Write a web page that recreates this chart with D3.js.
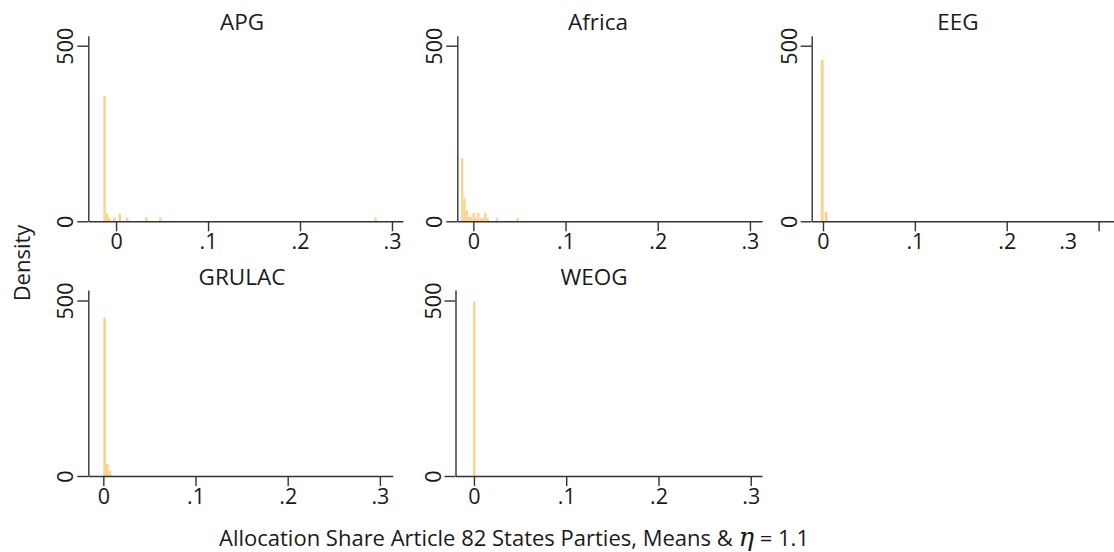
<!DOCTYPE html>
<html>
<head>
<meta charset="utf-8">
<script src="https://cdn.jsdelivr.net/npm/d3@7"></script>
<style>
  html, body { margin: 0; padding: 0; background: #fff; }
  svg { display: block; }
  text { font-family: "Open Sans", Lato, sans-serif; fill: #1a1a1a; }
</style>
</head>
<body>
<svg id="chart" width="1114" height="552"></svg>
<script>
// ---------- data ----------
const panelNames = ["APG", "Africa", "EEG", "GRULAC", "WEOG"];
const xTicks = [0, 0.1, 0.2, 0.3];
const xTickLabels = ["0", ".1", ".2", ".3"];
const yTicks = [0, 500];

const apgBinStart = [-0.0138, -0.0112, -0.0086, -0.0034, 0.0027, 0.0109, 0.0316, 0.0468, 0.2808];
const apgDensity  = [357, 22, 11, 11, 22, 11, 11, 11, 11];
const apgBinWidth = 0.0026;

const africaBinStart = [-0.0133, -0.0108, -0.0083, -0.0058, -0.0033, -0.0008, 0.0017, 0.0042, 0.0067, 0.0092, 0.0117, 0.0142, 0.0242, 0.0467];
const africaDensity  = [180, 66, 31, 12, 12, 24, 10, 24, 10, 10, 24, 10, 10, 10];
const africaBinWidth = 0.0025;

const eegBinStart = [-0.0025, 0.0018];
const eegDensity  = [460, 27];
const eegBinWidth = 0.0032;

const grulacBinStart = [0, 0.0029, 0.0058];
const grulacDensity  = [451, 34, 14];
const grulacBinWidth = 0.0029;

const weogBinStart = [-0.001];
const weogDensity  = [497];
const weogBinWidth = 0.0027;

const xTitle = "Allocation Share Article 82 States Parties, Means & ";
const yTitle = "Density";

// ---------- layout ----------
const rows = [
  { baseline: 221.3, top: 35.7, y500: 45.7, titleY: 30 },
  { baseline: 476.0, top: 290.0, y500: 300.5, titleY: 285 }
];
const layout = [
  { name: "APG",    start: apgBinStart,    dens: apgDensity,    w: apgBinWidth,    left: 88.3,  right: 403,  d0: -0.0302, d1: 0.312,  row: 0, titleX: 242 },
  { name: "Africa", start: africaBinStart, dens: africaDensity, w: africaBinWidth, left: 457.3, right: 762,  d0: -0.0174, d1: 0.3131, row: 0, titleX: 598 },
  { name: "EEG",    start: eegBinStart,    dens: eegDensity,    w: eegBinWidth,    left: 811.7, right: 1145, d0: -0.0123, d1: 0.3505, row: 0, titleX: 958, lastLabelShift: -31 },
  { name: "GRULAC", start: grulacBinStart, dens: grulacDensity, w: grulacBinWidth, left: 88.3,  right: 392.7, d0: -0.0163, d1: 0.3139, row: 1, titleX: 242 },
  { name: "WEOG",   start: weogBinStart,   dens: weogDensity,   w: weogBinWidth,   left: 455.5, right: 762,  d0: -0.0200, d1: 0.3122, row: 1, titleX: 594 }
];

const barColor = "#fdd28c";
const axisColor = "#333";
const fontFam = "'Open Sans', Lato, sans-serif";

const svg = d3.select("#chart");

layout.forEach((p, pi) => {
  const r = rows[p.row];
  const x = d3.scaleLinear().domain([p.d0, p.d1]).range([p.left, p.right]);
  const yMax = 500 * (r.baseline - r.top) / (r.baseline - r.y500);
  const y = d3.scaleLinear().domain([0, yMax]).range([r.baseline, r.top]);

  const g = svg.append("g");

  // bars
  const bins = p.start.map((s, i) => ({ s, d: p.dens[i] }));
  g.selectAll("rect.bar").data(bins).join("rect")
    .attr("class", "bar")
    .attr("x", d => x(d.s))
    .attr("width", d => x(d.s + p.w) - x(d.s))
    .attr("y", d => y(d.d))
    .attr("height", d => r.baseline - y(d.d))
    .attr("fill", barColor);

  // x axis
  const xAxis = d3.axisBottom(x).tickValues(xTicks)
    .tickFormat((d, i) => xTickLabels[i]).tickSize(10).tickSizeOuter(0);
  const gx = g.append("g").attr("transform", `translate(0,${r.baseline})`).call(xAxis);
  gx.select(".domain").attr("stroke", axisColor).attr("stroke-width", 1.4);
  gx.selectAll(".tick line").attr("stroke", axisColor).attr("stroke-width", 1.4);
  gx.selectAll(".tick text")
    .attr("y", 28).attr("dy", 0)
    .attr("font-size", 21.5).attr("font-family", fontFam).attr("fill", "#1a1a1a");
  if (p.lastLabelShift) {
    gx.selectAll(".tick text").filter((d, i) => i === xTicks.length - 1)
      .attr("x", p.lastLabelShift);
  }

  // y axis
  const yAxis = d3.axisLeft(y).tickValues(yTicks).tickFormat(d3.format("d")).tickSize(11).tickSizeOuter(0);
  const gy = g.append("g").attr("transform", `translate(${p.left},0)`).call(yAxis);
  gy.select(".domain").attr("stroke", axisColor).attr("stroke-width", 1.4);
  gy.selectAll(".tick line").attr("stroke", axisColor).attr("stroke-width", 1.4);
  gy.selectAll(".tick text")
    .attr("transform", "rotate(-90)")
    .attr("x", 0).attr("y", -15).attr("dy", 0)
    .attr("text-anchor", "middle")
    .attr("font-size", 21.5).attr("font-family", fontFam).attr("fill", "#1a1a1a");

  // panel title
  g.append("text")
    .attr("x", p.titleX).attr("y", r.titleY)
    .attr("text-anchor", "middle")
    .attr("font-size", 22.5)
    .text(p.name);
});

// y title
svg.append("text")
  .attr("transform", "translate(30,263) rotate(-90)")
  .attr("text-anchor", "middle")
  .attr("font-size", 22)
  .text(yTitle);

// x title
const xt = svg.append("text")
  .attr("x", 514).attr("y", 546)
  .attr("text-anchor", "middle")
  .attr("font-size", 22);
xt.append("tspan").text(xTitle);
xt.append("tspan").attr("font-family", "'DejaVu Serif', serif").attr("font-style", "italic").attr("font-size", 26).text("η");
xt.append("tspan").text(" = 1.1");
</script>
</body>
</html>
